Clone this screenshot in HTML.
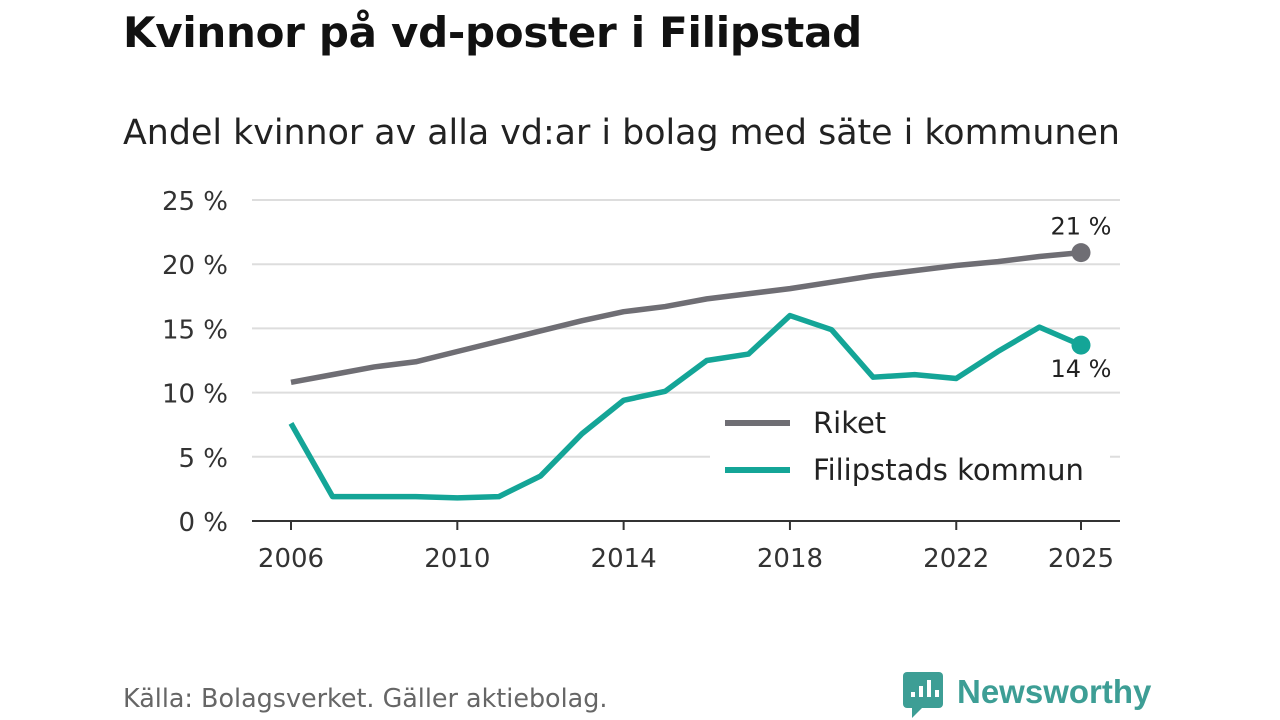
<!DOCTYPE html>
<html><head><meta charset="utf-8">
<style>
body{margin:0;width:1280px;height:720px;background:#fff;font-family:"DejaVu Sans","Liberation Sans",sans-serif;overflow:hidden;position:relative}
h1{position:absolute;left:123px;top:8px;margin:0;font-size:42px;font-weight:bold;color:#111;font-family:"DejaVu Sans","Liberation Sans",sans-serif;letter-spacing:-0.3px}
.sub{position:absolute;left:123px;top:113px;font-size:34.8px;color:#222}
.src{position:absolute;left:123px;top:683px;font-size:25.4px;color:#666}
</style></head><body>
<h1>Kvinnor på vd-poster i Filipstad</h1>
<div class="sub">Andel kvinnor av alla vd:ar i bolag med säte i kommunen</div>
<div class="src">Källa: Bolagsverket. Gäller aktiebolag.</div>
<svg width="1280" height="720" style="position:absolute;left:0;top:0" id="chart"></svg>
<script>
const years=[2006,2007,2008,2009,2010,2011,2012,2013,2014,2015,2016,2017,2018,2019,2020,2021,2022,2023,2024,2025];
const riket=[10.8,11.4,12.0,12.4,13.2,14.0,14.8,15.6,16.3,16.7,17.3,17.7,18.1,18.6,19.1,19.5,19.9,20.2,20.6,20.9];
const filipstad=[7.6,1.9,1.9,1.9,1.8,1.9,3.5,6.8,9.4,10.1,12.5,13.0,16.0,14.9,11.2,11.4,11.1,13.2,15.1,13.7];
const yTicks=[0,5,10,15,20,25];
const xTicks=[2006,2010,2014,2018,2022,2025];
const NS="http://www.w3.org/2000/svg";
const svg=document.getElementById('chart');
const x=v=>291+(v-2006)*(1081-291)/19;
const y=v=>521-v*(521-200)/25;
function el(t,a,txt){const e=document.createElementNS(NS,t);for(const k in a)e.setAttribute(k,a[k]);if(txt!==undefined)e.textContent=txt;svg.appendChild(e);return e;}
yTicks.forEach(t=>{
  if(t>0){const g=el('line',{x1:252,x2:1120,y1:y(t),y2:y(t),stroke:'#ddd','stroke-width':2});
  
  }
  const l=el('text',{x:228,y:y(t)+10,'text-anchor':'end','font-size':26,fill:'#333','font-family':'DejaVu Sans, Liberation Sans, sans-serif'},t+' %');
  
  
});
const ax=el('line',{x1:252,x2:1120,y1:521,y2:521,stroke:'#333','stroke-width':2});


xTicks.forEach(t=>{
  const tk=el('line',{x1:x(t),x2:x(t),y1:521,y2:530,stroke:'#333','stroke-width':2});
  
  
  const l=el('text',{x:x(t),y:567,'text-anchor':'middle','font-size':26,fill:'#333','font-family':'DejaVu Sans, Liberation Sans, sans-serif'},t);
  
  
});
function line(data,color,name){
  const d=data.map((v,i)=>(i?'L':'M')+x(years[i])+','+y(v)).join(' ');
  const p=el('path',{d:d,fill:'none',stroke:color,'stroke-width':5.5,'stroke-linejoin':'round'});
  
  
  const n=data.length-1;
  const c=el('circle',{cx:x(years[n]),cy:y(data[n]),r:9.5,fill:color});
  
  
}
line(riket,'#6f6e74','riket');
line(filipstad,'#14a597','filipstad');
const n=years.length-1;
const l1=el('text',{x:x(years[n]),y:y(riket[n])-18,'text-anchor':'middle','font-size':24,fill:'#222','font-family':'DejaVu Sans, Liberation Sans, sans-serif'},Math.round(riket[n])+' %');


const l2=el('text',{x:x(years[n]),y:y(filipstad[n])+32,'text-anchor':'middle','font-size':24,fill:'#222','font-family':'DejaVu Sans, Liberation Sans, sans-serif'},Math.round(filipstad[n])+' %');


const lgbg=el('rect',{x:710,y:400,width:400,height:100,fill:'#fff'});


[['Riket','#6f6e74',423],['Filipstads kommun','#14a597',470]].forEach(([t,c,yy])=>{
  const s=el('line',{x1:725,x2:790,y1:yy,y2:yy,stroke:c,'stroke-width':6});
  
  
  const tx=el('text',{x:813,y:yy+10,'font-size':29,fill:'#222','font-family':'DejaVu Sans, Liberation Sans, sans-serif'},t);
  
  
});
const lg=el('rect',{x:903,y:672,width:40,height:36,rx:4,fill:'#3d9e95'});


const tail=el('path',{d:'M912,708 L912,718 L922,708 Z',fill:'#3d9e95'});


[[911,692,5],[919,686,11],[927,680,17],[935,690,7]].forEach(([bx,by,bh])=>{
  const b=el('rect',{x:bx,y:by,width:4,height:bh,fill:'#fff'});
  
  
});
const lt=el('text',{x:957,y:703,'font-size':33,'font-weight':'bold',fill:'#3d9e95','font-family':'Liberation Sans, sans-serif'},'Newsworthy');


</script>
</body></html>
